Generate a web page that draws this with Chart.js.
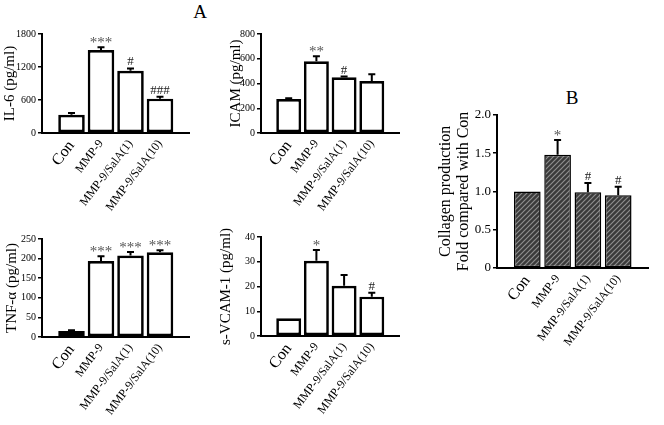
<!DOCTYPE html>
<html>
<head>
<meta charset="utf-8">
<script src="https://cdn.jsdelivr.net/npm/chart.js@4.4.0/dist/chart.umd.min.js"></script>
<style>
  body { margin: 0; background: #fff; width: 664px; height: 425px; overflow: hidden; position: relative; font-family: "Liberation Serif", "Times New Roman", serif; }
  canvas { position: absolute; }
  .panel-label { position: absolute; font-size: 19px; line-height: 19px; width: 40px; text-align: center; color: #000; }
</style>
</head>
<body>
<div class="panel-label" style="left:180px; top:2px;">A</div>
<div class="panel-label" style="left:552px; top:88px;">B</div>
<canvas id="il6Chart"></canvas>
<canvas id="icamChart"></canvas>
<canvas id="tnfChart"></canvas>
<canvas id="vcamChart"></canvas>
<canvas id="collagenChart"></canvas>
<script>
// groups on the x axis (same for every panel)
const categories = ['Con', 'MMP-9', 'MMP-9/SalA(1)', 'MMP-9/SalA(10)'];

// IL-6 (pg/ml)
const il6Values = [330, 1510, 1130, 625];
const il6Errors = [35, 50, 45, 35];
const il6Marks = ['', '***', '#', '###'];
const il6Ticks = [0, 600, 1200, 1800];

// ICAM (pg/ml)
const icamValues = [275, 580, 450, 420];
const icamErrors = [6, 40, 6, 55];
const icamMarks = ['', '**', '#', ''];
const icamTicks = [0, 200, 400, 600, 800];

// TNF-alpha (pg/ml)
const tnfValues = [15, 194, 208, 216];
const tnfErrors = [2, 12, 9, 5];
const tnfMarks = ['', '***', '***', '***'];
const tnfTicks = [0, 50, 100, 150, 200, 250];

// s-VCAM-1 (pg/ml)
const vcamValues = [7.2, 30.4, 20.3, 15.9];
const vcamErrors = [0, 4.3, 4.3, 1.6];
const vcamMarks = ['', '*', '', '#'];
const vcamTicks = [0, 10, 20, 30, 40];

// B: collagen production, fold of Con
const collagenValues = [1.0, 1.48, 0.99, 0.95];
const collagenErrors = [0, 0.19, 0.12, 0.11];
const collagenMarks = ['', '*', '#', '#'];
const collagenTicks = [0, 0.5, 1.0, 1.5, 2.0];

const SERIF = "'Liberation Serif', 'Times New Roman', serif";
Chart.defaults.font.family = SERIF;
Chart.defaults.color = '#000';

// one empty slot each side so the axis runs a full group past the bars
const paddedLabels = [''].concat(categories, ['']);
const pad = arr => [null].concat(arr, [null]);

function hatchPattern() {
    const c = document.createElement('canvas');
    c.width = 5; c.height = 5;
    const g = c.getContext('2d');
    g.fillStyle = '#3a3a3a';
    g.fillRect(0, 0, 5, 5);
    g.strokeStyle = '#8e8e8e';
    g.lineWidth = 1.2;
    g.beginPath();
    g.moveTo(0, 5); g.lineTo(5, 0);
    g.moveTo(-1, 1); g.lineTo(1, -1);
    g.moveTo(4, 6); g.lineTo(6, 4);
    g.stroke();
    return g.createPattern(c, 'repeat');
}

// upward error bars and significance marks
const errorBarPlugin = {
    id: 'errorBars',
    afterDatasetsDraw(chart, args, opts) {
        const ctx = chart.ctx;
        const y = chart.scales.y;
        const meta = chart.getDatasetMeta(0);
        const data = chart.data.datasets[0].data;
        ctx.save();
        meta.data.forEach((bar, i) => {
            const v = data[i];
            if (v === null || v === undefined) return;
            const err = opts.errors[i] || 0;
            const top = y.getPixelForValue(v + err);
            if (err > 0) {
                ctx.strokeStyle = '#000';
                ctx.lineWidth = 2;
                ctx.beginPath();
                ctx.moveTo(bar.x, bar.y);
                ctx.lineTo(bar.x, top);
                ctx.moveTo(bar.x - 3.5, top);
                ctx.lineTo(bar.x + 3.5, top);
                ctx.stroke();
            }
            const mark = opts.marks[i];
            if (mark) {
                const star = mark.indexOf('*') >= 0;
                ctx.fillStyle = star ? '#555' : '#222';
                ctx.font = (star ? 15 : 13) + 'px ' + SERIF;
                ctx.textAlign = 'center';
                ctx.textBaseline = 'alphabetic';
                ctx.fillText(mark, bar.x, top - (star ? 0 : 3));
            }
        });
        ctx.restore();
    }
};

function makePanel(id, box, area, p) {
    const canvas = document.getElementById(id);
    canvas.width = box.w;
    canvas.height = box.h;
    canvas.style.left = box.x + 'px';
    canvas.style.top = box.y + 'px';
    const big = !!p.big;
    return new Chart(canvas.getContext('2d'), {
        type: 'bar',
        data: {
            labels: paddedLabels,
            datasets: [{
                data: pad(p.values),
                backgroundColor: p.fill,
                borderColor: '#000',
                borderWidth: p.border,
                borderSkipped: false,
                categoryPercentage: p.catPct,
                barPercentage: 1.0
            }]
        },
        options: {
            responsive: false,
            devicePixelRatio: 1,
            animation: false,
            layout: {
                padding: { top: area.t - box.y, right: box.x + box.w - area.r, left: 0, bottom: 0 }
            },
            plugins: {
                legend: { display: false },
                tooltip: { enabled: false },
                errorBars: { errors: pad(p.errors), marks: pad(p.marks) }
            },
            scales: {
                x: {
                    offset: false,
                    grid: { display: false, drawTicks: false },
                    border: { display: true, color: '#000', width: 2 },
                    ticks: {
                        autoSkip: false,
                        minRotation: 53,
                        maxRotation: 53,
                        padding: 4,
                        color: '#000',
                        font: ctx => ({ family: SERIF, size: paddedLabels[ctx.index] === 'Con' ? 16 : 12 })
                    },
                    afterFit: s => { s.height = box.y + box.h - area.b; }
                },
                y: {
                    min: p.ticks[0],
                    max: p.ticks[p.ticks.length - 1],
                    afterBuildTicks: s => { s.ticks = p.ticks.map(v => ({ value: v })); },
                    grid: { display: true, drawOnChartArea: false, drawTicks: true, tickLength: 4, color: '#000', lineWidth: 1.5 },
                    border: { display: true, color: '#000', width: 2 },
                    ticks: {
                        padding: 2,
                        color: '#000',
                        font: { family: SERIF, size: big ? 13 : 10 },
                        callback: p.tickFormat || (v => String(v))
                    },
                    title: {
                        display: true,
                        text: p.title,
                        color: '#000',
                        font: { family: SERIF, size: big ? 16 : 15, lineHeight: big ? 1.1 : 1.2 },
                        padding: { top: p.titlePad, bottom: 0 }
                    },
                    afterFit: s => { s.width = area.l - box.x; }
                }
            }
        },
        plugins: [errorBarPlugin]
    });
}

makePanel('il6Chart', { x: 0, y: 0, w: 205, h: 215 }, { l: 42, t: 34, r: 192, b: 133 }, {
    values: il6Values, errors: il6Errors, marks: il6Marks, ticks: il6Ticks,
    title: 'IL-6 (pg/ml)', titlePad: 1, fill: '#fff', border: 2.7, catPct: 0.9
});
makePanel('icamChart', { x: 215, y: 0, w: 200, h: 215 }, { l: 261, t: 34, r: 409, b: 133 }, {
    values: icamValues, errors: icamErrors, marks: icamMarks, ticks: icamTicks,
    title: 'ICAM (pg/ml)', titlePad: 12, fill: '#fff', border: 2.7, catPct: 0.9
});
makePanel('tnfChart', { x: 0, y: 215, w: 205, h: 210 }, { l: 42, t: 239, r: 192, b: 337 }, {
    values: tnfValues, errors: tnfErrors, marks: tnfMarks, ticks: tnfTicks,
    title: 'TNF-\u03b1 (pg/ml)', titlePad: 3, fill: '#fff', border: 2.7, catPct: 0.9
});
makePanel('vcamChart', { x: 215, y: 215, w: 200, h: 210 }, { l: 261, t: 237, r: 409, b: 336 }, {
    values: vcamValues, errors: vcamErrors, marks: vcamMarks, ticks: vcamTicks,
    title: 's-VCAM-1 (pg/ml)', titlePad: 2, fill: '#fff', border: 2.7, catPct: 0.9
});
makePanel('collagenChart', { x: 420, y: 105, w: 244, h: 320 }, { l: 497, t: 113, r: 660, b: 268 }, {
    values: collagenValues, errors: collagenErrors, marks: collagenMarks, ticks: collagenTicks,
    title: ['Collagen production', 'Fold compared with Con'], titlePad: 17,
    fill: hatchPattern(), border: 1.5, catPct: 0.88, big: true,
    tickFormat: v => (v === 0 ? '0' : v.toFixed(1))
});
</script>
</body>
</html>
